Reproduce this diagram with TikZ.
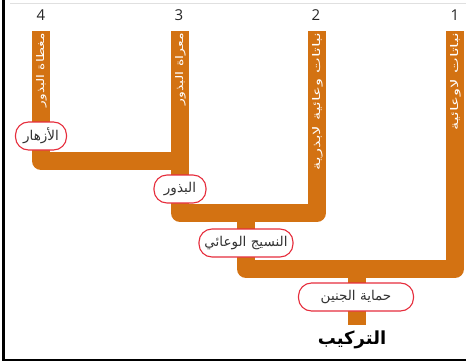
\documentclass[tikz,border=0pt]{standalone}
\usepackage{fontspec}
\usepackage{graphicx}
\TeXXeTstate=1
\newfontfamily\arabicfont[Script=Arabic]{DejaVu Sans}
\newfontfamily\numfont{Open Sans}
\definecolor{barorange}{RGB}{211,114,18}
\definecolor{lblred}{RGB}{230,45,60}
\definecolor{lbltext}{RGB}{50,50,50}
\newcommand\colfit[2]{\resizebox{#1}{\height}{#2}}
\tikzset{
  bar/.style={draw=barorange, line width=18pt, line join=round, line cap=butt},
  coltext/.style={rotate=90, anchor=east, inner sep=0pt, text=white,
    font=\arabicfont\fontsize{10.5}{11}\selectfont},
  lbl/.style={draw=lblred, line width=1.1pt, fill=white, rounded corners=13pt,
    text=lbltext, inner sep=2pt, minimum height=28pt,
    font=\arabicfont\fontsize{13.5}{15}\selectfont},
  num/.style={text=black!85, font=\numfont\fontsize{15}{16}\selectfont, inner sep=0pt}
}
\begin{document}
\begin{tikzpicture}[x=1pt,y=-1pt]
\useasboundingbox (0,0) rectangle (466,361);
% frame
\draw[black!12, line width=0.8pt] (10,3) -- (466,3);
\draw[black, line width=2.4pt] (3.5,0) -- (3.5,360.2) -- (466,360.2);
% coordinates
\coordinate (t4) at (41,31);
\coordinate (t3) at (180,31);
\coordinate (t2) at (317,31);
\coordinate (t1) at (455,31);
\coordinate (c4) at (41,161);
\coordinate (j43) at (180,161);
\coordinate (c3) at (180,213);
\coordinate (c2) at (317,213);
\coordinate (j432) at (246,213);
\coordinate (c432) at (246,269);
\coordinate (c1) at (455,269);
\coordinate (j4321) at (357,269);
\coordinate (root) at (357,325);
% bars
\draw[bar] (t4) -- (c4) -- (j43);
\draw[bar] (t3) -- (c3) -- (c2) -- (t2);
\draw[bar] (j432) -- (c432) -- (c1) -- (t1);
\draw[bar] (j4321) -- (root);
% numbers
\node[num] (n4) at (41,15) {4};
\node[num] (n3) at (179,15) {3};
\node[num] (n2) at (316,15) {2};
\node[num] (n1) at (455,15) {1};
% column texts
\node[coltext] (x4) at (41.5,33) {\colfit{74pt}{\beginR مغطاة البذور\endR}};
\node[coltext] (x3) at (180.5,33) {\colfit{72pt}{\beginR معراة البذور\endR}};
\node[coltext] (x2) at (317.5,33) {\colfit{137pt}{\beginR نباتات وعائية لابذرية\endR}};
\node[coltext] (x1) at (455.5,33) {\colfit{97pt}{\beginR نباتات لاوعائية\endR}};
% labels
\node[lbl, minimum width=51pt] (l4) at (41,136) {\beginR الأزهار\endR};
\node[lbl, minimum width=52pt] (l3) at (180,189) {\beginR البذور\endR};
\node[lbl, minimum width=94pt] (l2) at (246,243) {\beginR النسيج الوعائي\endR};
\node[lbl, minimum width=115pt] (l1) at (356,297) {\beginR حماية الجنين\endR};
\node[text=black, inner sep=0pt, font=\arabicfont\bfseries\fontsize{18}{20}\selectfont] (title) at (352,340) {\beginR التركيب\endR};
\end{tikzpicture}
\end{document}
